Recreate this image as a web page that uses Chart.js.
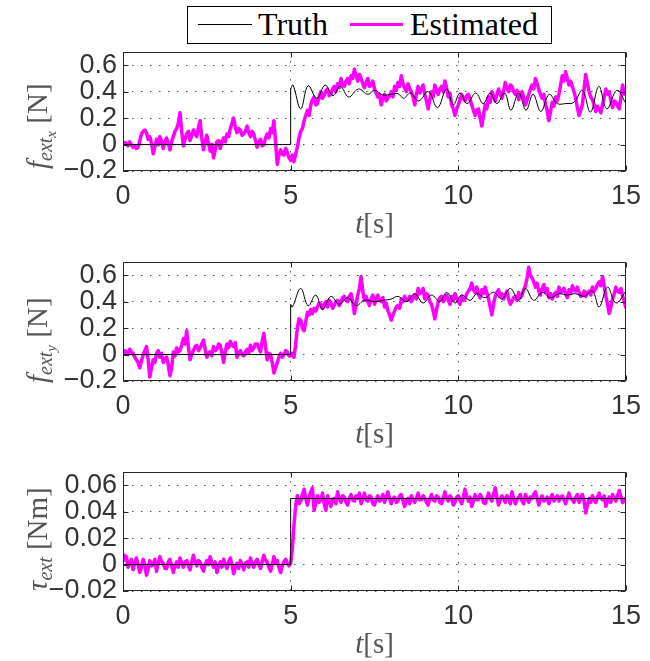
<!DOCTYPE html>
<html lang="en">
<head>
    <meta charset="UTF-8">
    <title>External force / torque estimation</title>
    <script src="https://cdn.jsdelivr.net/npm/chart.js"></script>
    <style>
        body { margin: 0; background: #fff; }
        .wrap { position: relative; width: 650px; height: 661px; }
        canvas { position: absolute; left: 0; }
        #legend {
            position: absolute; left: 187px; top: 6px; width: 363px; height: 36px;
            border: 1px solid #000; background: #fff;
            font-family: 'Liberation Serif', 'Times New Roman', serif; font-size: 32px; line-height: 32px;
        }
        #legend span { position: absolute; }
        .sw { height: 0; }
    </style>
</head>
<body>
<div class="wrap">
    <canvas id="fx" width="650" height="240" style="top:0px"></canvas>
    <canvas id="fy" width="650" height="240" style="top:210px"></canvas>
    <canvas id="tau" width="650" height="240" style="top:420px"></canvas>

    <!-- legend -->
    <div id="legend">
        <span class="sw" style="left:10px;top:17px;width:54px;border-top:1px solid #000"></span>
        <span style="left:70px;top:1px">Truth</span>
        <span class="sw" style="left:162px;top:16px;width:53px;border-top:3px solid #ff00ff"></span>
        <span style="left:222px;top:1px">Estimated</span>
    </div>
</div>

<script>
// estimate sampled every 0.05 s from 0 to 15 s
const sampleStep = 0.05;

// estimated f_ext_x [N]  (one row = 1 s)
const estFx = [
    0,0.015,0.01,-0.01,0.02,0,-0.02,-0.01,-0.03,-0.02,0.03,0.08,0.1,0.11,0.09,0.04,0.06,0.01,-0.07,-0.02,
    0.04,0,0.06,0.03,-0.03,0.02,0.05,0.01,-0.04,0.02,0.06,0.1,0.12,0.16,0.24,0.1,-0.01,0.04,0.08,0.1,
    0.03,0.07,0.11,0.08,0.06,0.13,0.18,0.05,-0.04,0.02,0.07,0.01,-0.05,0,-0.1,-0.04,0.02,0.03,-0.03,0.02,
    0.05,0.02,0.08,0.06,0.12,0.16,0.2,0.13,0.09,0.12,0.11,0.07,0.08,0.1,0.14,0.09,0.06,0.1,0.08,0.03,
    -0.02,0.02,0.04,-0.01,0,0.05,0.08,0.05,0.12,0.09,0.18,0.02,-0.15,-0.08,-0.04,-0.07,-0.08,-0.03,-0.06,-0.1,
    -0.12,-0.08,-0.13,-0.07,-0.02,0.05,0.1,0.12,0.18,0.22,0.26,0.22,0.3,0.34,0.36,0.3,0.31,0.36,0.4,0.35,
    0.37,0.41,0.42,0.37,0.38,0.42,0.44,0.4,0.46,0.43,0.5,0.45,0.44,0.48,0.5,0.46,0.52,0.5,0.57,0.52,
    0.48,0.53,0.5,0.46,0.43,0.47,0.5,0.44,0.45,0.48,0.42,0.39,0.36,0.38,0.3,0.35,0.38,0.33,0.35,0.37,
    0.4,0.36,0.44,0.41,0.47,0.44,0.52,0.46,0.43,0.4,0.46,0.42,0.4,0.36,0.3,0.38,0.44,0.39,0.42,0.45,
    0.38,0.33,0.27,0.34,0.4,0.36,0.45,0.41,0.38,0.42,0.44,0.4,0.48,0.43,0.36,0.39,0.3,0.27,0.22,0.27,
    0.3,0.34,0.38,0.35,0.33,0.37,0.38,0.34,0.3,0.26,0.22,0.26,0.27,0.2,0.14,0.22,0.3,0.27,0.36,0.32,
    0.4,0.37,0.33,0.38,0.42,0.38,0.35,0.4,0.47,0.43,0.4,0.45,0.44,0.4,0.38,0.41,0.34,0.38,0.4,0.35,
    0.3,0.34,0.38,0.42,0.45,0.42,0.5,0.46,0.42,0.38,0.35,0.38,0.3,0.26,0.18,0.25,0.32,0.29,0.36,0.33,
    0.38,0.45,0.52,0.48,0.55,0.5,0.45,0.48,0.44,0.4,0.35,0.28,0.22,0.26,0.3,0.42,0.53,0.46,0.4,0.36,
    0.34,0.3,0.25,0.29,0.27,0.24,0.3,0.36,0.42,0.38,0.4,0.33,0.28,0.33,0.32,0.29,0.27,0.36,0.45,0.38,
    0.42
];

// estimated f_ext_y [N]
const estFy = [
    0,0.03,0.02,0,0.04,0.02,0.01,-0.02,-0.04,-0.06,-0.1,-0.05,0,0.03,0.06,-0.04,-0.17,-0.1,-0.04,-0.06,
    0.01,0.03,-0.02,0.01,-0.06,-0.03,-0.02,-0.08,-0.16,-0.1,0.02,-0.01,0.05,0.02,0.03,0.07,0.12,0.08,0.18,0.06,
    -0.04,0,0.03,0.06,0.07,0.03,0.05,0.08,0.11,0.04,-0.02,0.01,0.02,-0.01,0.06,0.03,0.04,0.08,0.07,0.01,
    -0.06,0.02,0.08,0.05,0.1,0.07,0.06,0.09,-0.02,0.01,0.03,0,-0.01,0.02,0.04,0.01,0.07,0.03,0.05,0.08,
    0.08,0.05,0.02,0.1,0.16,0.06,-0.04,0.01,0,-0.06,-0.14,-0.1,-0.06,-0.02,0.01,-0.02,0,0.03,0.02,-0.01,
    -0.01,0.01,-0.02,0.08,0.2,0.27,0.26,0.2,0.18,0.25,0.32,0.3,0.34,0.31,0.35,0.33,0.36,0.39,0.38,0.35,
    0.38,0.4,0.36,0.41,0.39,0.35,0.37,0.4,0.41,0.37,0.4,0.43,0.44,0.41,0.4,0.44,0.46,0.4,0.31,0.38,
    0.45,0.5,0.59,0.48,0.41,0.44,0.4,0.37,0.42,0.45,0.38,0.42,0.45,0.41,0.4,0.43,0.36,0.39,0.33,0.3,
    0.26,0.3,0.33,0.36,0.37,0.35,0.42,0.4,0.44,0.41,0.41,0.44,0.4,0.43,0.45,0.42,0.5,0.46,0.47,0.5,
    0.42,0.46,0.45,0.4,0.38,0.33,0.27,0.34,0.4,0.43,0.44,0.4,0.42,0.45,0.41,0.38,0.44,0.41,0.46,0.43,
    0.4,0.38,0.44,0.41,0.42,0.46,0.48,0.5,0.54,0.49,0.47,0.51,0.46,0.43,0.49,0.46,0.51,0.47,0.42,0.36,
    0.3,0.38,0.44,0.47,0.49,0.44,0.46,0.42,0.45,0.48,0.42,0.38,0.4,0.43,0.44,0.41,0.47,0.43,0.45,0.49,
    0.52,0.58,0.66,0.6,0.58,0.55,0.51,0.54,0.48,0.45,0.5,0.53,0.47,0.5,0.43,0.46,0.42,0.45,0.47,0.44,
    0.51,0.47,0.48,0.5,0.46,0.43,0.49,0.46,0.52,0.49,0.48,0.51,0.47,0.44,0.45,0.48,0.44,0.47,0.48,0.45,
    0.51,0.48,0.5,0.53,0.55,0.52,0.59,0.52,0.44,0.38,0.31,0.36,0.42,0.46,0.51,0.48,0.47,0.5,0.44,0.4,
    0.35
];

// estimated tau_ext [Nm]
const estTau = [
    0.002,0.007,0.006,-0.002,0.001,0.004,-0.004,0.001,0.005,0,-0.006,-0.002,0.004,0,-0.008,-0.003,0.003,-0.001,0,0.004,
    -0.005,0.001,0.006,0.002,0.001,-0.003,-0.003,0.002,0.004,-0.001,-0.006,-0.001,0.002,-0.002,0.005,0.001,-0.002,0.002,0.003,-0.001,
    -0.004,0.002,0.007,0.002,-0.001,0.003,0.002,-0.002,-0.005,0,0.003,0,0.006,0.001,-0.002,0.002,-0.006,-0.001,0.002,-0.002,
    0.004,0,-0.003,0.002,0.005,0,-0.007,-0.002,0.001,-0.003,0.003,0,-0.004,0.001,0.002,-0.002,0.005,0.001,-0.002,0.002,
    0.004,0,-0.003,0.002,0.007,0.003,0.002,-0.002,-0.005,0,0.006,0.001,0.003,-0.002,-0.006,-0.001,0.002,0.004,0.001,-0.001,
    0.001,0.012,0.03,0.045,0.052,0.046,0.048,0.053,0.057,0.05,0.045,0.051,0.055,0.058,0.041,0.047,0.052,0.047,0.049,0.054,
    0.046,0.041,0.052,0.048,0.044,0.049,0.05,0.046,0.055,0.05,0.047,0.052,0.051,0.047,0.045,0.05,0.053,0.049,0.048,0.052,
    0.05,0.054,0.046,0.05,0.054,0.049,0.048,0.052,0.051,0.046,0.045,0.049,0.052,0.048,0.049,0.053,0.047,0.051,0.055,0.05,
    0.046,0.05,0.051,0.047,0.048,0.052,0.053,0.048,0.044,0.049,0.05,0.046,0.052,0.049,0.047,0.05,0.054,0.049,0.049,0.052,
    0.05,0.047,0.045,0.05,0.053,0.049,0.048,0.052,0.051,0.047,0.046,0.05,0.055,0.05,0.048,0.052,0.05,0.045,0.047,0.051,
    0.052,0.049,0.046,0.051,0.057,0.052,0.048,0.051,0.044,0.048,0.053,0.049,0.049,0.053,0.051,0.047,0.046,0.05,0.054,0.05,
    0.048,0.053,0.058,0.051,0.045,0.049,0.052,0.05,0.047,0.052,0.05,0.046,0.055,0.05,0.046,0.049,0.051,0.053,0.048,0.046,
    0.053,0.05,0.047,0.051,0.05,0.053,0.055,0.05,0.045,0.049,0.052,0.048,0.049,0.051,0.046,0.05,0.053,0.048,0.05,0.052,
    0.048,0.051,0.052,0.049,0.046,0.05,0.054,0.05,0.049,0.047,0.051,0.053,0.047,0.05,0.053,0.048,0.039,0.045,0.05,0.047,
    0.052,0.049,0.047,0.051,0.054,0.05,0.049,0.052,0.044,0.048,0.051,0.047,0.053,0.05,0.048,0.052,0.056,0.051,0.047,0.049,
    0.05
];

// true force before the contact (step at 5 s)
const stepT = [0, 5, 5];
const stepFx = [0, 0, 0.42];
const stepFy = [0, 0, 0.38];

// true force after the contact (turning points of the oscillation)
const truthFxT = [5, 5.07, 5.3, 5.52, 5.78, 6.03, 6.26, 6.48, 6.73, 7.02, 7.3, 7.5, 7.75, 8.0, 8.2, 8.37, 8.57, 8.82, 9.1, 9.38,
    9.65, 9.85, 10.05, 10.26, 10.52, 10.74, 10.95, 11.15, 11.38, 11.57, 11.8, 12.02, 12.23, 12.46, 12.71, 12.95, 13.2, 13.45,
    13.7, 13.94, 14.19, 14.43, 14.73, 15];
const truthFx = [0.42, 0.45, 0.27, 0.445, 0.35, 0.45, 0.37, 0.44, 0.36, 0.42, 0.38, 0.41, 0.375, 0.38, 0.385, 0.35, 0.39, 0.33, 0.4, 0.28,
    0.42, 0.3, 0.39, 0.31, 0.39, 0.31, 0.39, 0.31, 0.39, 0.26, 0.39, 0.26, 0.38, 0.25, 0.38, 0.31, 0.31, 0.32,
    0.41, 0.245, 0.44, 0.27, 0.41, 0.31];

const truthFyT = [5, 5.05, 5.3, 5.52, 5.75, 5.95, 6.2, 6.45, 6.7, 6.95, 7.2, 7.5, 7.75, 8.0, 8.2, 8.45, 8.7, 8.95, 9.2, 9.45,
    9.65, 9.9, 10.1, 10.35, 10.55, 10.8, 11.05, 11.3, 11.55, 11.8, 12.0, 12.25, 12.5, 12.75, 13.0, 13.25, 13.5, 13.75,
    14.0, 14.2, 14.45, 14.7, 15];
const truthFy = [0.38, 0.36, 0.5, 0.37, 0.45, 0.34, 0.44, 0.38, 0.43, 0.37, 0.41, 0.4, 0.41, 0.42, 0.44, 0.4, 0.46, 0.39, 0.45, 0.4,
    0.47, 0.39, 0.45, 0.41, 0.46, 0.43, 0.47, 0.42, 0.5, 0.41, 0.5, 0.41, 0.47, 0.43, 0.46, 0.45, 0.46, 0.44,
    0.48, 0.36, 0.51, 0.39, 0.48];

const truthTauT = [0, 5, 5, 15];
const truthTau = [0, 0, 0.05, 0.05];

const xTicks = [0, 5, 10, 15];

function pts(xs, ys) {
    return xs.map((x, i) => ({ x: x, y: ys[i] }));
}
function sampled(ys) {
    return ys.map((y, i) => ({ x: Math.round(i * sampleStep * 100) / 100, y: y }));
}

function fmt(v) {
    const r = Math.round(v * 1000) / 1000;
    if (r === 0) return '0';
    return (r < 0 ? '\u2212' : '') + String(Math.abs(r));
}

const SERIF = "'Liberation Serif', 'Times New Roman', serif";

// draws a run of text pieces (with subscripts) starting at 0,0
function drawParts(ctx, parts, measureOnly) {
    let x = 0;
    parts.forEach(p => {
        ctx.font = (p.it ? 'italic ' : '') + p.size + 'px ' + SERIF;
        if (!measureOnly) ctx.fillText(p.t, x, p.dy || 0);
        x += ctx.measureText(p.t).width;
    });
    return x;
}

// axes box, inward ticks and LaTeX-like axis titles
const texLabels = {
    id: 'texLabels',
    afterDraw(chart, args, opts) {
        const ctx = chart.ctx, a = chart.chartArea;
        const xs = chart.scales.x, ys = chart.scales.y;
        ctx.save();
        ctx.strokeStyle = '#262626';
        ctx.lineWidth = 1;
        const L = Math.round(a.left) + 0.5, R = Math.round(a.right) - 0.5;
        const T = Math.round(a.top) + 0.5, B = Math.round(a.bottom) - 0.5;
        ctx.strokeRect(L, T, R - L, B - T);
        ctx.beginPath();
        ys.ticks.forEach(t => {
            const y = Math.round(ys.getPixelForValue(t.value)) + 0.5;
            ctx.moveTo(L, y); ctx.lineTo(L + 5, y);
            ctx.moveTo(R, y); ctx.lineTo(R - 5, y);
        });
        xs.ticks.forEach(t => {
            const x = Math.round(xs.getPixelForValue(t.value)) + 0.5;
            ctx.moveTo(x, B); ctx.lineTo(x, B - 5);
            ctx.moveTo(x, T); ctx.lineTo(x, T + 5);
        });
        ctx.stroke();

        ctx.fillStyle = '#555';
        ctx.textBaseline = 'alphabetic';
        ctx.textAlign = 'left';
        // x title
        const wx = drawParts(ctx, opts.xParts, true);
        ctx.save();
        ctx.translate((a.left + a.right) / 2 - wx / 2, a.bottom + 62);
        drawParts(ctx, opts.xParts);
        ctx.restore();
        // y title, rotated
        ctx.save();
        ctx.translate(47, a.bottom + opts.yStart);
        ctx.rotate(-Math.PI / 2);
        drawParts(ctx, opts.yParts);
        ctx.restore();
        ctx.restore();
    }
};

function makeChart(id, est, truthSets, yMin, yMax, yStep, yParts, yStart) {
    const sets = truthSets.map(s => ({
        data: s.data, borderColor: '#000', borderWidth: 1, tension: s.smooth ? 0.4 : 0,
        pointRadius: 0
    }));
    sets.push({
        data: sampled(est), borderColor: '#ff00ff', borderWidth: 3.5, tension: 0,
        pointRadius: 0, borderJoinStyle: 'round'
    });
    return new Chart(document.getElementById(id), {
        type: 'line',
        data: { datasets: sets },
        options: {
            responsive: false,
            animation: false,
            layout: { padding: { top: 52, right: 19, bottom: 0, left: 0 } },
            plugins: {
                legend: { display: false },
                tooltip: { enabled: false },
                texLabels: {
                    xParts: [{ t: 't', it: true, size: 29 }, { t: '[s]', size: 29 }],
                    yParts: yParts,
                    yStart: yStart
                }
            },
            scales: {
                x: {
                    type: 'linear', min: 0, max: 15,
                    afterBuildTicks: s => { s.ticks = xTicks.map(v => ({ value: v })); },
                    afterFit: s => { s.height = 69; },
                    ticks: {
                        color: '#333', padding: 9, maxRotation: 0,
                        font: { family: "'Liberation Sans', Arial, sans-serif", size: 27 },
                        callback: v => fmt(v)
                    },
                    grid: { color: 'rgba(40,40,40,0.8)', lineWidth: 1, drawTicks: false },
                    border: { display: false, dash: [1.5, 7.5] }
                },
                y: {
                    min: yMin, max: yMax,
                    afterFit: s => { s.width = 123; },
                    ticks: {
                        stepSize: yStep, includeBounds: false, autoSkip: false,
                        color: '#333', padding: 6,
                        font: { family: "'Liberation Sans', Arial, sans-serif", size: 27 },
                        callback: v => fmt(v)
                    },
                    grid: { color: 'rgba(40,40,40,0.8)', lineWidth: 1, drawTicks: false },
                    border: { display: false, dash: [1.5, 7.5] }
                }
            }
        },
        plugins: [texLabels]
    });
}

makeChart('fx', estFx, [
    { data: pts(stepT, stepFx) },
    { data: pts(truthFxT, truthFx), smooth: true }
], -0.2, 0.7, 0.2, [
    { t: 'f', it: true, size: 29 },
    { t: 'ext', it: true, size: 20, dy: 5 },
    { t: 'x', it: true, size: 15, dy: 9 },
    { t: ' [N]', size: 29 }
], -2);

makeChart('fy', estFy, [
    { data: pts(stepT, stepFy) },
    { data: pts(truthFyT, truthFy), smooth: true }
], -0.2, 0.7, 0.2, [
    { t: 'f', it: true, size: 29 },
    { t: 'ext', it: true, size: 20, dy: 5 },
    { t: 'y', it: true, size: 15, dy: 9 },
    { t: ' [N]', size: 29 }
], 2);

makeChart('tau', estTau, [
    { data: pts(truthTauT, truthTau) }
], -0.02, 0.07, 0.02, [
    { t: '\u03c4', it: true, size: 29 },
    { t: 'ext', it: true, size: 20, dy: 5 },
    { t: ' [Nm]', size: 29 }
], 0);
</script>
</body>
</html>
